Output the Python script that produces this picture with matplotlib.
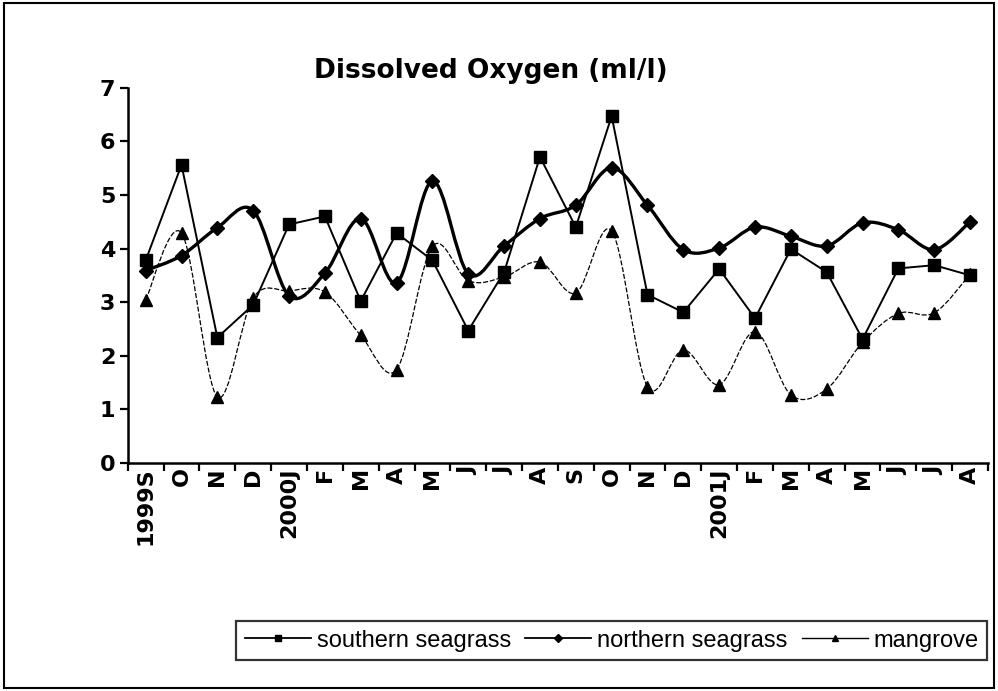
import numpy as np
import matplotlib
matplotlib.use("Agg")
import matplotlib.pyplot as plt
from matplotlib.path import Path
from matplotlib.patches import PathPatch, Rectangle

plt.rcParams['font.family'] = ['Liberation Sans', 'DejaVu Sans']

# month labels, Sept 1999 to Aug 2001
months = ['1999S', 'O', 'N', 'D', '2000J', 'F', 'M', 'A', 'M', 'J', 'J', 'A',
          'S', 'O', 'N', 'D', '2001J', 'F', 'M', 'A', 'M', 'J', 'J', 'A']

southern = [3.78, 5.56, 2.34, 2.95, 4.45, 4.60, 3.02, 4.29, 3.78, 2.47, 3.56, 5.71,
            4.40, 6.47, 3.14, 2.81, 3.62, 2.70, 3.99, 3.56, 2.31, 3.63, 3.69, 3.50]
northern = [3.59, 3.87, 4.39, 4.71, 3.12, 3.54, 4.56, 3.36, 5.26, 3.53, 4.05, 4.56,
            4.81, 5.51, 4.81, 3.98, 4.01, 4.40, 4.23, 4.05, 4.48, 4.35, 3.98, 4.50]
mangrove = [3.04, 4.29, 1.23, 3.08, 3.21, 3.19, 2.38, 1.74, 4.04, 3.40, 3.47, 3.75,
            3.17, 4.33, 1.42, 2.11, 1.46, 2.45, 1.27, 1.38, 2.25, 2.79, 2.80, 3.52]


def smooth_path(xs, ys, k=1.0 / 6):
    # Excel-style smoothed line: cubic bezier segments through the data points
    p = np.column_stack([xs, ys]).astype(float)
    n = len(p)
    verts = [p[0]]
    codes = [Path.MOVETO]
    for i in range(n - 1):
        p0 = p[i - 1] if i > 0 else p[i]
        p3 = p[i + 2] if i + 2 < n else p[i + 1]
        c1 = p[i] + (p[i + 1] - p0) * k
        c2 = p[i + 1] - (p3 - p[i]) * k
        verts += [c1, c2, p[i + 1]]
        codes += [Path.CURVE4] * 3
    return Path(verts, codes)


fig = plt.figure(figsize=(9.98, 6.91), dpi=100)
ax = fig.add_axes([0.128, 0.330, 0.862, 0.543])

x = np.arange(len(months))

ax.plot(x, southern, color='black', lw=1.4, marker='s', ms=8.5, zorder=3)
ax.plot([], [], color='black', lw=1.3, marker='s', ms=5, label='southern seagrass')

ax.add_patch(PathPatch(smooth_path(x, northern), facecolor='none',
                       edgecolor='black', lw=2.4, zorder=3))
ax.plot(x, northern, color='black', ls='none', marker='D', ms=7.5, zorder=4)
ax.plot([], [], color='black', lw=1.3, marker='D', ms=4.5,
        label='northern seagrass')

ax.add_patch(PathPatch(smooth_path(x, mangrove), facecolor='none',
                       edgecolor='black', lw=0.9, ls=(0, (4, 1.5)), zorder=2))
ax.plot(x, mangrove, color='black', ls='none', marker='^', ms=8.5, zorder=3)
ax.plot([], [], color='black', lw=1.0, marker='^', ms=5, label='mangrove')

ax.set_xlim(-0.5, len(months) - 0.5)
ax.set_ylim(0, 7)
ax.set_yticks(range(0, 8))
ax.set_xticks(x)
ax.set_xticklabels(months, rotation=90, fontweight='bold', fontsize=16,
                   family=['DejaVu Sans'])
ax.set_xticks(np.arange(-0.5, len(months)), minor=True)
ax.tick_params(axis='x', which='major', length=0, pad=3)
ax.tick_params(axis='x', which='minor', length=6, width=1.6, direction='out')
ax.tick_params(axis='y', length=6, width=1.6, direction='out', labelsize=16, pad=3)
for lab in ax.get_yticklabels():
    lab.set_fontweight('bold')
    lab.set_family(['DejaVu Sans'])

for s in ['top', 'right']:
    ax.spines[s].set_visible(False)
for s in ['left', 'bottom']:
    ax.spines[s].set_linewidth(1.8)

fig.text(0.492, 0.897, 'Dissolved Oxygen (ml/l)', ha='center', va='center',
         fontsize=19, fontweight='bold', family=['DejaVu Sans'])

leg = fig.legend(loc='center', bbox_to_anchor=(0.613, 0.073), ncol=3,
                 frameon=True, fancybox=False, edgecolor='black',
                 handlelength=2.8, handletextpad=0.25, columnspacing=0.6,
                 borderpad=0.35, prop={'size': 17})
leg.get_frame().set_linewidth(1.6)

fig.patches.append(Rectangle((0.004, 0.004), 0.992, 0.992, transform=fig.transFigure,
                             fill=False, edgecolor='black', lw=1.5))

fig.savefig('out.png', dpi=100)
